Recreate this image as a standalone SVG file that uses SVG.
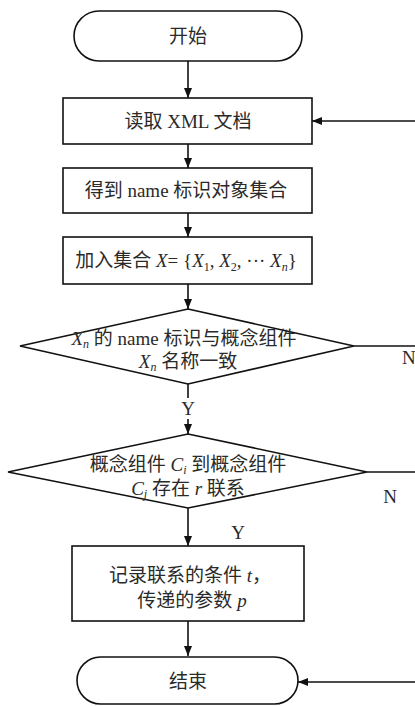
<svg xmlns="http://www.w3.org/2000/svg" width="415" height="706" viewBox="0 0 415 706">
  <defs>
    <marker id="arrow" viewBox="0 0 10 10" refX="10" refY="5" markerWidth="10" markerHeight="10" markerUnits="userSpaceOnUse" orient="auto">
      <path d="M0,1 L10,5 L0,9 Z" fill="#111"/>
    </marker>
    <style>
      .shape { fill: #fff; stroke: #111; stroke-width: 1.6; }
      .edge { fill: none; stroke: #111; stroke-width: 1.6; }
      .lbl { font-family: "Liberation Serif", "Noto Sans CJK SC", serif; font-size: 19px; fill: #2a2a2a; text-anchor: middle; }
      .it { font-style: italic; }
      .sub { font-size: 12px; }
    </style>
  </defs>
  <rect width="415" height="706" fill="#fff"/>

  <!-- connectors -->
  <g id="connectors">
    <line class="edge" x1="188" y1="61" x2="188" y2="98" marker-end="url(#arrow)"/>
    <line class="edge" x1="415" y1="121" x2="312" y2="121" marker-end="url(#arrow)"/>
    <line class="edge" x1="188" y1="144" x2="188" y2="168" marker-end="url(#arrow)"/>
    <line class="edge" x1="188" y1="213" x2="188" y2="237" marker-end="url(#arrow)"/>
    <line class="edge" x1="188" y1="284" x2="188" y2="309" marker-end="url(#arrow)"/>
    <line class="edge" x1="354" y1="346" x2="415" y2="346"/>
    <text class="lbl" x="402" y="364" style="text-anchor:start">N</text>
    <line class="edge" x1="188" y1="384" x2="188" y2="398"/>
    <text class="lbl" x="188" y="415">Y</text>
    <line class="edge" x1="188" y1="419" x2="188" y2="434" marker-end="url(#arrow)"/>
    <line class="edge" x1="367" y1="472" x2="415" y2="472"/>
    <text class="lbl" x="390" y="503">N</text>
    <line class="edge" x1="188" y1="508" x2="188" y2="546" marker-end="url(#arrow)"/>
    <text class="lbl" x="238" y="539">Y</text>
    <line class="edge" x1="188" y1="621" x2="188" y2="656" marker-end="url(#arrow)"/>
    <line class="edge" x1="415" y1="682" x2="298" y2="682" marker-end="url(#arrow)"/>
  </g>

  <g id="start">
    <rect class="shape" x="74" y="11" width="228" height="50" rx="25"/>
    <text class="lbl" x="188" y="43">开始</text>
  </g>

  <g id="read-xml">
    <rect class="shape" x="63" y="98" width="249" height="46"/>
    <text class="lbl" x="188" y="128">读取 XML 文档</text>
  </g>

  <g id="get-name">
    <rect class="shape" x="63" y="168" width="249" height="45"/>
    <text class="lbl" x="186" y="197">得到 name 标识对象集合</text>
  </g>

  <g id="add-set">
    <rect class="shape" x="63" y="237" width="249" height="47"/>
    <text class="lbl" x="186" y="267">加入集合 <tspan class="it">X</tspan>= {<tspan class="it">X</tspan><tspan class="sub" dy="4">1</tspan><tspan dy="-4">, </tspan><tspan class="it">X</tspan><tspan class="sub" dy="4">2</tspan><tspan dy="-4">, ··· </tspan><tspan class="it">X</tspan><tspan class="sub it" dy="4">n</tspan><tspan dy="-4">}</tspan></text>
  </g>

  <g id="check-name">
    <polygon class="shape" points="188,309 354,346 188,384 20,346"/>
    <text class="lbl" x="184" y="345"><tspan class="it">X</tspan><tspan class="sub it" dy="3">n</tspan><tspan dy="-3"> 的 name 标识与概念组件</tspan></text>
    <text class="lbl" x="188" y="368"><tspan class="it">X</tspan><tspan class="sub it" dy="3">n</tspan><tspan dy="-3"> 名称一致</tspan></text>
  </g>

  <g id="check-relation">
    <polygon class="shape" points="188,434 367,472 188,508 8,472"/>
    <text class="lbl" x="188" y="471">概念组件 <tspan class="it">C</tspan><tspan class="sub it" dy="3">i</tspan><tspan dy="-3"> 到概念组件</tspan></text>
    <text class="lbl" x="188" y="495"><tspan class="it">C</tspan><tspan class="sub it" dy="3">j</tspan><tspan dy="-3"> 存在 </tspan><tspan class="it">r</tspan> 联系</text>
  </g>

  <g id="record">
    <rect class="shape" x="72" y="546" width="232" height="75"/>
    <text class="lbl" x="190" y="582">记录联系的条件 <tspan class="it">t</tspan>，</text>
    <text class="lbl" x="192" y="607">传递的参数 <tspan class="it">p</tspan></text>
  </g>

  <g id="end">
    <rect class="shape" x="77" y="657" width="221" height="47" rx="23.5"/>
    <text class="lbl" x="188" y="688">结束</text>
  </g>
</svg>
